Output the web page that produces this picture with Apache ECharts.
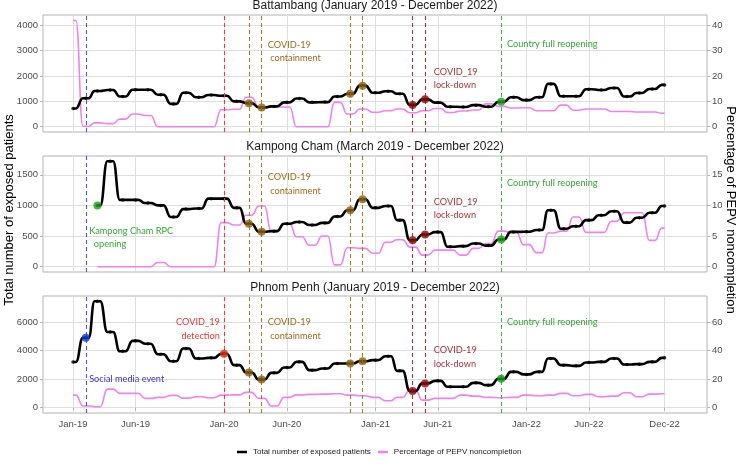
<!DOCTYPE html>
<html><head><meta charset="utf-8">
<script src="https://cdn.jsdelivr.net/npm/echarts@6/dist/echarts.min.js"></script>
<style>html,body{margin:0;padding:0;background:#fff}#c{width:740px;height:470px}</style>
</head><body><div id="c"></div>
<script>
// ---------- DATA ----------
const months = ['2019-01','2019-02','2019-03','2019-04','2019-05','2019-06','2019-07','2019-08','2019-09','2019-10','2019-11','2019-12',
  '2020-01','2020-02','2020-03','2020-04','2020-05','2020-06','2020-07','2020-08','2020-09','2020-10','2020-11','2020-12',
  '2021-01','2021-02','2021-03','2021-04','2021-05','2021-06','2021-07','2021-08','2021-09','2021-10','2021-11','2021-12',
  '2022-01','2022-02','2022-03','2022-04','2022-05','2022-06','2022-07','2022-08','2022-09','2022-10','2022-11','2022-12'];

const tickDates = ['2019-01-01','2019-06-01','2020-01-01','2020-06-01','2021-01-01','2021-06-01','2022-01-01','2022-06-01','2022-12-01'];
const tickLabels = ['Jan-19','Jun-19','Jan-20','Jun-20','Jan-21','Jun-21','Jan-22','Jun-22','Dec-22'];

const panelTitles = ['Battambang (January 2019 - December 2022)','Kampong Cham (March 2019 - December 2022)','Phnom Penh (January 2019 - December 2022)'];
const legendNames = ['Total number of exposed patients','Percentage of PEPV noncompletion'];

// Battambang
const batTotal = [720,1120,1410,1450,1190,1460,1460,1260,900,1340,1160,1250,
  1220,1000,930,760,800,960,1110,960,970,1190,1300,1620,
  1340,1400,1300,860,1080,950,790,780,850,790,980,1160,
  1050,1160,1690,1200,1200,1480,1450,1530,1190,1330,1490,1650];
const batPct = [41.9,0.2,1.5,1.2,3.0,5.0,4.4,0,0,0,0,0,
  6.7,6.9,11.6,7.6,7.8,7.8,0,0,0,9.6,5.0,7.0,
  5.7,6.3,7.0,5.5,6.3,7.2,5.6,6.2,6.6,9.0,8.0,7.4,
  7.5,6.3,6.3,8.5,6.5,7.0,7.0,6.0,6.0,5.8,5.8,5.3];
// Kampong Cham
const kcTotal = [null,null,1000,1720,1090,1090,1040,1000,810,940,950,1110,
  1110,960,700,570,580,700,730,680,715,820,920,1100,
  960,990,760,433,526,565,325,336,380,345,445,568,
  570,600,920,620,660,760,840,905,720,800,880,990];
const kcPct = [null,null,0,0,0,0,0,0.7,0,0,0,0,
  7.2,6.8,8.4,9.9,5.7,7.0,4.9,3.5,5.0,0.3,3.1,3.0,
  2.2,4.0,4.4,3.2,1.9,2.7,2.7,1.9,3.0,3.8,5.8,5.6,
  3.6,2.3,5.5,5.8,8.1,5.6,5.6,7.4,8.8,8.8,4.3,6.3];
// Phnom Penh
const ppTotal = [3200,4900,7450,5300,3950,4680,4480,3740,3250,4140,3440,3490,
  3780,2980,2460,1970,2440,2810,3210,2630,2740,3090,3090,3250,
  3330,3600,2580,1160,1700,1880,1470,1470,1740,1580,2020,2510,
  2330,2510,3440,2980,2930,3160,3210,3440,3020,3050,3210,3490];
const ppPct = [8.8,1.2,0.7,13.0,10.0,10.0,6.5,7.2,8.6,6.7,7.7,7.0,
  8.8,9.0,10.7,6.5,1.2,7.2,9.0,9.3,9.5,9.8,8.8,8.4,
  7.2,4.9,7.2,12.3,5.3,6.5,6.5,8.8,8.1,7.2,7.0,7.2,
  8.8,8.4,8.8,10.0,8.4,9.3,7.7,8.1,10.5,7.7,9.5,9.8];

// events (vertical dashed lines, same in every panel)
const eventDates = ['2019-02-01','2020-01-01','2020-03-01','2020-04-01','2020-11-01','2020-12-01','2021-04-01','2021-05-01','2021-11-01'];
const eventKinds = ['social','detection','containment','containment','containment','containment','lockdown','lockdown','reopening'];
// highlighted points on the total line
const batDotDates = ['2020-03-01','2020-04-01','2020-11-01','2020-12-01','2021-04-01','2021-05-01','2021-11-01'];
const batDotKinds = ['containment','containment','containment','containment','lockdown','lockdown','reopening'];
const kcDotDates = ['2019-03-01','2020-03-01','2020-04-01','2020-11-01','2020-12-01','2021-04-01','2021-05-01','2021-11-01'];
const kcDotKinds = ['reopening','containment','containment','containment','containment','lockdown','lockdown','reopening'];
const ppDotDates = eventDates;
const ppDotKinds = eventKinds;

// annotation texts: [text, kind, anchorDate, anchorValue, align]
const batNotes = [
  ['COVID-19\n containment','containment','2020-04-16',2970,'left'],
  ['COVID_19\nlock-down','lockdown','2021-05-22',1900,'left'],
  ['Country full reopening','reopening','2021-11-15',3250,'left']];
const kcNotes = [
  ['COVID-19\n containment','containment','2020-04-16',1350,'left'],
  ['COVID_19\nlock-down','lockdown','2021-05-22',945,'left'],
  ['Country full reopening','reopening','2021-11-15',1360,'left'],
  ['Kampong Cham RPC\n  opening','reopening','2019-02-09',474,'left']];
const ppNotes = [
  ['COVID_19\ndetection','detection','2019-12-22',5525,'right'],
  ['COVID-19\n containment','containment','2020-04-16',5525,'left'],
  ['Social media event','social','2019-02-09',2000,'left'],
  ['COVID-19\nlock-down','lockdown','2021-05-22',3537,'left'],
  ['Country full reopening','reopening','2021-11-15',5978,'left']];

const leftTicks = [[0,1000,2000,3000,4000],[0,500,1000,1500],[0,2000,4000,6000]];
const rightTicks = [[0,10,20,30,40],[0,5,10,15],[0,20,40,60]];

// ---------- STYLE ----------
const kindStyle = {
  social:      {line:'#5050f5', dot:'#0a3ae0', text:'#3535d8'},
  detection:   {line:'#e8403a', dot:'#dd2a10', text:'#e23a36'},
  containment: {line:'#a97a2c', dot:'#8b6010', text:'#9c6c1c'},
  lockdown:    {line:'#a83434', dot:'#8b0a0a', text:'#a83434'},
  reopening:   {line:'#44b04a', dot:'#18a018', text:'#35a535'}
};
const grids = [{top:15,height:117},{top:156,height:116},{top:296,height:117}];
const yRange = [[-210,4410],[-86,1806],[-372,7822]];
const LEFT = 43, RIGHT = 33;

function ts(s){ const p = s.split('-').map(Number); return Date.UTC(p[0], p[1]-1, p[2]||1); }
const DAY = 86400000, H = 7*DAY;
const xMin = ts('2018-10-20') + DAY/2, xMax = ts('2023-03-13') + DAY/2;
const tickTs = tickDates.map(ts);

function plateau(vals){
  const out = [];
  vals.forEach((v,i)=>{
    if (v == null) return;
    const t = ts(months[i]);
    const first = (i === 0 || vals[i-1] == null), last = (i === vals.length-1);
    out.push([first ? t : t - H, v]);
    out.push([last ? t : t + H, v]);
  });
  return out;
}
function monthly(vals){ return vals.map((v,i)=> v==null ? null : [ts(months[i]), v]).filter(Boolean); }

const panels = [
  {total:batTotal, pct:batPct, dotDates:batDotDates, dotKinds:batDotKinds, notes:batNotes},
  {total:kcTotal, pct:kcPct, dotDates:kcDotDates, dotKinds:kcDotKinds, notes:kcNotes},
  {total:ppTotal, pct:ppPct, dotDates:ppDotDates, dotKinds:ppDotKinds, notes:ppNotes}
];

const FONT = 'Liberation Sans, Arial, sans-serif';
const plain = (v)=>String(v);
const option = {
  animation:false,
  backgroundColor:'#ffffff',
  grid:[], xAxis:[], yAxis:[], series:[],
  legend:{
    data:legendNames.map(n=>({name:n, icon:'rect'})),
    left:232, top:443, itemWidth:10, itemHeight:2.5, itemGap:7,
    textStyle:{fontSize:8, color:'#1a1a1a', fontFamily:FONT, padding:[0,0,0,1]}
  }
};

panels.forEach((p,g)=>{
  option.grid.push({left:LEFT, right:RIGHT, top:grids[g].top, height:grids[g].height,
    show:true, borderColor:'#b3b3b3', borderWidth:1, backgroundColor:'transparent', containLabel:false});
  const isBottom = g === 2;
  option.xAxis.push({type:'value', gridIndex:g, min:xMin, max:xMax,
    axisLine:{show:false},
    axisTick:{show:isBottom, length:3, lineStyle:{color:'#b3b3b3'}, customValues:tickTs},
    axisLabel:{show:isBottom, customValues:tickTs, margin:6, fontSize:9.5, color:'#4d4d4d', fontFamily:FONT,
      formatter:(v)=>{ let bi=0, bd=Infinity; tickTs.forEach((t,i)=>{ const d=Math.abs(t-v); if(d<bd){bd=d;bi=i;} }); return tickLabels[bi]; }},
    splitLine:{show:true, lineStyle:{color:'#dedede', width:1}}
  });
  const [lo,hi] = yRange[g];
  option.yAxis.push({type:'value', gridIndex:g, position:'left', min:lo, max:hi,
    axisLine:{show:false},
    axisTick:{show:true, length:3, lineStyle:{color:'#b3b3b3'}, customValues:leftTicks[g]},
    axisLabel:{customValues:leftTicks[g], margin:5, fontSize:9.5, color:'#4d4d4d', fontFamily:FONT, formatter:plain},
    splitLine:{show:true, lineStyle:{color:'#dedede', width:1}}
  });
  option.yAxis.push({type:'value', gridIndex:g, position:'right', min:lo/100, max:hi/100,
    axisLine:{show:false},
    axisTick:{show:true, length:3, lineStyle:{color:'#b3b3b3'}, customValues:rightTicks[g]},
    axisLabel:{customValues:rightTicks[g], margin:5, fontSize:9.5, color:'#4d4d4d', fontFamily:FONT, formatter:plain},
    splitLine:{show:false}
  });
  option.series.push({type:'line', name:legendNames[1], xAxisIndex:g, yAxisIndex:2*g+1,
    data:plateau(p.pct), smooth:0.5, smoothMonotone:'x', showSymbol:false, symbol:'none',
    color:'#ee82ee', lineStyle:{color:'#ee82ee', width:1.6}, z:2, silent:true,
    markLine:{silent:true, symbol:['none','none'], label:{show:false}, animation:false,
      data:eventDates.map((d,i)=>({xAxis:ts(d), lineStyle:{color:kindStyle[eventKinds[i]].line, type:[4,3], width:1.1}}))}
  });
  option.series.push({type:'line', name:legendNames[0], xAxisIndex:g, yAxisIndex:2*g,
    data:plateau(p.total), smooth:0.5, smoothMonotone:'x', showSymbol:false, symbol:'none',
    color:'#000000', lineStyle:{color:'#000000', width:2.6}, z:3, silent:true});
  option.series.push({type:'scatter', name:'monthly'+g, xAxisIndex:g, yAxisIndex:2*g,
    data:monthly(p.total), symbol:'circle', symbolSize:3.5, itemStyle:{color:'#000'}, z:4, silent:true});
  option.series.push({type:'scatter', name:'events'+g, xAxisIndex:g, yAxisIndex:2*g,
    data:p.dotDates.map((d,i)=>({value:[ts(d), p.total[months.indexOf(d.slice(0,7))]], itemStyle:{color:kindStyle[p.dotKinds[i]].dot}})),
    symbol:'circle', symbolSize:8, z:5, silent:true});
});

const chart = echarts.init(document.getElementById('c'), null, {renderer:'canvas', width:740, height:470});
chart.setOption(option);

const graphics = [];
const titleY = [6, 147, 287.5];
panelTitles.forEach((t,g)=>graphics.push({type:'text', x:375, y:titleY[g], silent:true,
  style:{text:t, fontSize:12, fontFamily:FONT, fill:'#1a1a1a', align:'center', verticalAlign:'middle'}}));
graphics.push({type:'text', x:9, y:210, rotation:Math.PI/2, silent:true,
  style:{text:'Total number of exposed patients', fontSize:13, fontFamily:FONT, fill:'#000', align:'center', verticalAlign:'middle'}});
graphics.push({type:'text', x:731, y:210, rotation:-Math.PI/2, silent:true,
  style:{text:'Percentage of PEPV noncompletion', fontSize:13, fontFamily:FONT, fill:'#000', align:'center', verticalAlign:'middle'}});
panels.forEach((p,g)=>{
  p.notes.forEach(n=>{
    const pt = chart.convertToPixel({xAxisIndex:g, yAxisIndex:2*g}, [ts(n[2]), n[3]]);
    graphics.push({type:'text', x:pt[0], y:pt[1], silent:true,
      style:{text:n[0], fontSize:9.2, fontFamily:'Lato, sans-serif', fill:kindStyle[n[1]].text,
        align:n[4], verticalAlign:'middle', lineHeight:13.5}});
  });
});
chart.setOption({graphic:graphics});
</script></body></html>
